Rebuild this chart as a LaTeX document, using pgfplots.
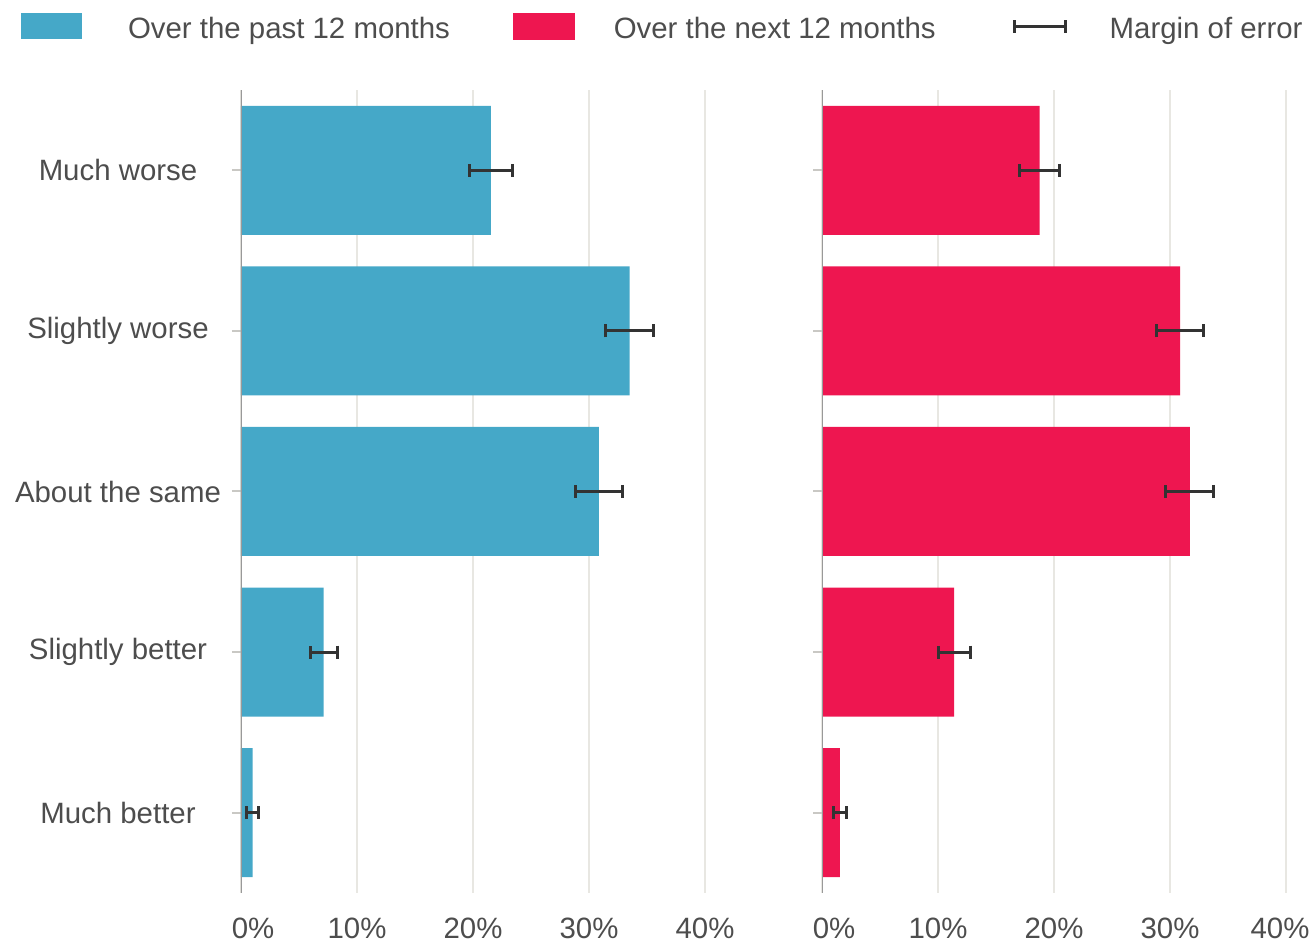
\documentclass[border=0pt]{standalone}
\usepackage{pgfplots}
\pgfplotsset{compat=1.18}
\usepackage{fontspec}
\setmainfont{Liberation Sans}
\definecolor{cblue}{HTML}{45A8C8}
\definecolor{cred}{HTML}{EE1650}
\definecolor{txt}{HTML}{4D4D4D}
\definecolor{gridc}{HTML}{E8E7E2}
\definecolor{axc}{HTML}{999999}
\definecolor{errc}{HTML}{333333}
\pgfplotsset{
  mybase/.style={
    scale only axis, width=232pt, height=401.5pt,
    xmin=0, xmax=40, ymin=-0.5, ymax=4.5,
    xbar, bar width=64.5pt, bar shift=0pt,
    axis x line*=bottom, axis y line*=left,
    x axis line style={draw=none}, y axis line style={draw=none},
    xtick={0,10,20,30,40},
    xticklabels={\hspace*{12pt}0\%,10\%,20\%,30\%,40\%},
    xmajorgrids, major grid style={gridc, line width=1.4pt},
    xtick style={draw=none},
    ytick={0,1,2,3,4},
    ytick style={draw=gridc!70!gray, line width=1pt},
    tick align=outside, major tick length=4.5pt,
    ticklabel style={font=\fontsize{14.7}{17}\selectfont, text=txt},
    xticklabel style={yshift=-4.5pt},
    error bars/error mark=|,
    error bars/error bar style={line width=1.5pt, errc},
    error bars/error mark options={line width=1.5pt, errc, mark size=3.25pt},
  }
}
\begin{document}
\begin{tikzpicture}
\useasboundingbox (-120.5pt,-24.5pt) rectangle (535.5pt,446.5pt);
\begin{axis}[mybase, at={(0pt,0pt)}, anchor=south west,
  yticklabels={Much better, Slightly better, About the same, Slightly worse, Much worse},
  yticklabel style={anchor=center, xshift=-57pt},
  legend columns=3,
  legend style={draw=none, fill=none, at={(axis description cs:-0.4741,1.0785)}, anchor=west,
    inner sep=0pt, outer sep=0pt, font=\fontsize{14.7}{17}\selectfont, text=txt,
    nodes={inner sep=0pt, yshift=-1.5pt},
    /tikz/column 1/.style={column sep=23pt},
    /tikz/column 2/.style={column sep=31.5pt},
    /tikz/column 3/.style={column sep=19.5pt},
    /tikz/column 4/.style={column sep=38.5pt},
    /tikz/column 5/.style={column sep=21.5pt}},
  legend cell align=left]
\addplot[fill=cblue, draw=none,
  legend image code/.code={\fill[cblue] (0pt,-6.5pt) rectangle (30.5pt,6.5pt);},
  error bars/.cd, x dir=both, x explicit]
coordinates {
 (1.0,0) +- (0.52,0)
 (7.13,1) +- (1.15,0)
 (30.86,2) +- (2.04,0)
 (33.51,3) +- (2.08,0)
 (21.55,4) +- (1.82,0)
};
\addlegendentry{Over the past 12 months}
\addlegendimage{legend image code/.code={\fill[cred] (0pt,-6.5pt) rectangle (30.5pt,6.5pt);}}
\addlegendentry{Over the next 12 months}
\addlegendimage{legend image code/.code={\draw[errc, line width=1.5pt] (0pt,0pt)--(25.5pt,0pt);
   \draw[errc, line width=1.5pt] (0pt,-3.25pt)--(0pt,3.25pt) (25.5pt,-3.25pt)--(25.5pt,3.25pt);}}
\addlegendentry{Margin of error}
\draw[axc, line width=1pt] (axis cs:0,-0.5) -- (axis cs:0,4.5);
\end{axis}
\begin{axis}[mybase, at={(290.5pt,0pt)}, anchor=south west,
  yticklabels={},
  xticklabels={\hspace*{12pt}0\%,10\%,20\%,30\%,40\%\hspace*{6pt}}]
\addplot[fill=cred, draw=none,
  error bars/.cd, x dir=both, x explicit]
coordinates {
 (1.55,0) +- (0.6,0)
 (11.4,1) +- (1.38,0)
 (31.71,2) +- (2.06,0)
 (30.87,3) +- (2.02,0)
 (18.77,4) +- (1.71,0)
};
\draw[axc, line width=1pt] (axis cs:0,-0.5) -- (axis cs:0,4.5);
\end{axis}
\end{tikzpicture}
\end{document}
